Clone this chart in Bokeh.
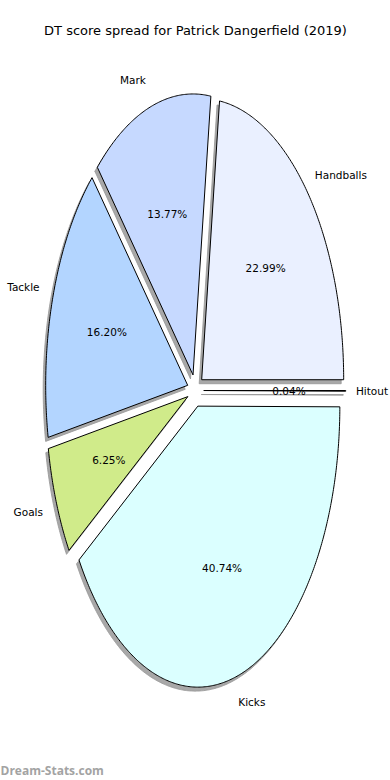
import numpy as np
from bokeh.plotting import figure
from bokeh.models import Range1d, ColumnDataSource
from bokeh.core.properties import value
from bokeh.embed import file_html
from bokeh.resources import INLINE

# ---- data ----
categories = ["Handballs", "Mark", "Tackle", "Goals", "Kicks", "Hitout"]
percentages = [22.99, 13.77, 16.20, 6.25, 40.74, 0.04]
colors = ["#eaf0ff", "#c6d9ff", "#b3d5ff", "#d0eb8a", "#dbffff", "#ffffff"]
title_text = "DT score spread for Patrick Dangerfield (2019)"
watermark = "Dream-Stats.com"

# ---- layout (pixel-like data space) ----
CX, CY = 195.0, 390.0
RX, RY = 142.0, 281.0
EXPLODE = 0.058
LABEL_DIST = 1.1
PCT_DIST = 0.6
SH_DX, SH_DY = -2.5, 4.0

p = figure(width=390, height=780, output_backend="svg", toolbar_location=None,
           x_range=Range1d(0, 390), y_range=Range1d(780, 0), min_border=0)
p.axis.visible = False
p.grid.visible = False
p.outline_line_color = None
p.background_fill_color = "white"

vals = np.array(percentages, dtype=float)
frac = vals / vals.sum()
ends = np.cumsum(frac) * 2 * np.pi
starts = ends - frac * 2 * np.pi

xs, ys, sxs, sys_ = [], [], [], []
lab_x, lab_y, lab_align, lab_dx = [], [], [], []
pct_x, pct_y, pct_txt = [], [], []
for a0, a1, v in zip(starts, ends, vals):
    mid = (a0 + a1) / 2
    ox = CX + EXPLODE * RX * np.cos(mid)
    oy = CY - EXPLODE * RY * np.sin(mid)
    n = max(3, int(np.degrees(a1 - a0) * 2))
    t = np.linspace(a0, a1, n)
    px = np.concatenate([[ox], ox + RX * np.cos(t), [ox]])
    py = np.concatenate([[oy], oy - RY * np.sin(t), [oy]])
    xs.append(list(px)); ys.append(list(py))
    sxs.append(list(px + SH_DX)); sys_.append(list(py + SH_DY))
    lab_x.append(ox + LABEL_DIST * RX * np.cos(mid))
    lab_y.append(oy - LABEL_DIST * RY * np.sin(mid))
    left = np.cos(mid) > 0
    lab_align.append("left" if left else "right")
    lab_dx.append(-4 if left else 0)
    pct_x.append(ox + PCT_DIST * RX * np.cos(mid))
    pct_y.append(oy - PCT_DIST * RY * np.sin(mid))
    pct_txt.append(f"{v:.2f}%")

p.patches(sxs, sys_, fill_color="#999999", fill_alpha=0.85, line_color="#999999",
          line_alpha=0.85, line_width=1)
p.patches(xs, ys, fill_color=colors, line_color="black", line_width=1)

lab_src = ColumnDataSource(dict(x=lab_x, y=lab_y, t=categories, a=lab_align, dx=lab_dx))
p.text(x="x", y="y", text="t", text_align="a", text_baseline="middle", x_offset="dx",
       source=lab_src, text_font=value("DejaVu Sans"), text_font_size="10.5px",
       text_color="black")
pct_src = ColumnDataSource(dict(x=pct_x, y=pct_y, t=pct_txt))
p.text(x="x", y="y", text="t", text_align="center", text_baseline="middle",
       source=pct_src, text_font=value("DejaVu Sans"), text_font_size="10.5px",
       text_color="black")

p.text(x=[CX], y=[30], text=[title_text], text_align="center", text_baseline="middle",
       text_font=value("DejaVu Sans"), text_font_size="13px", text_color="black")
p.text(x=[0], y=[770], text=[watermark], text_align="left", text_baseline="middle",
       text_font=value("Open Sans"), text_font_size="12px", text_font_style="bold",
       text_color="#a3a3a3")

open("out.html", "w").write(file_html(p, INLINE))
